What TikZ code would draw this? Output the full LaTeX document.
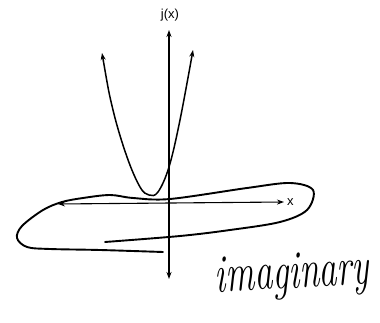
\documentclass[tikz,border=0pt]{standalone}
\usepackage{fontspec}
\setsansfont{Liberation Sans}
\usetikzlibrary{arrows.meta}
\begin{document}
\begin{tikzpicture}[x=1pt,y=-1pt,
  axis/.style={line width=1.1pt,{Stealth[length=7pt,width=5pt]}-{Stealth[length=7pt,width=5pt]}},
  curve/.style={line width=1.5pt,{Stealth[length=7pt,width=5pt]}-{Stealth[length=7pt,width=5pt]}},
  scribble/.style={line width=1.9pt,line cap=round,line join=round},
  lbl/.style={font=\sffamily\fontsize{13}{13}\selectfont,inner sep=1pt}]
\useasboundingbox (0,0) rectangle (380,323);
% axes
\coordinate (ytop) at (169,30);
\coordinate (ybot) at (169,279);
\coordinate (xl) at (58,204);
\coordinate (xr) at (284,202);
\node[lbl] (jx) at (170,15) {j(x)};
\node[lbl,anchor=west] (xlab) at (286,202) {x};
\draw[axis] (ybot) -- (ytop);
\draw[axis] (xl) -- (xr);
% parabola
\draw[curve] plot[smooth,tension=0.6] coordinates
  {(102,53) (113,110) (127,157) (140,187) (149,195) (158,192) (169,167) (180,120) (193,50)};
% scribble loop
\draw[scribble] plot[smooth,tension=0.55] coordinates
  {(163,252) (100,250) (50,249) (27,247) (17,238) (22,226) (43,210) (62,202) (83,198) (110,195) (133,198) (170,199) (247,188) (290,183) (313,190) (307,210) (280,222) (230,230) (180,236) (105,242)};
% handwritten label
\node[inner sep=0pt,rotate=3,yscale=1.5,transform shape] (imag) at (292,276) {\fontsize{36}{36}\selectfont\itshape imaginary};
\end{tikzpicture}
\end{document}
